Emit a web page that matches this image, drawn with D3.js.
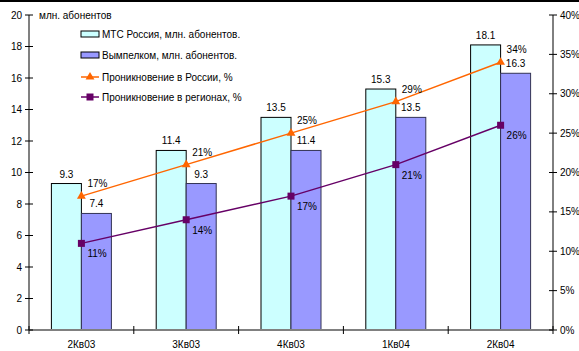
<!doctype html>
<html lang="ru">
<head>
  <meta charset="utf-8">
  <title>Абоненты - D3</title>
  <style>
    body { margin: 0; background: #fff; }
    text { font-family: "Liberation Sans", Arial, sans-serif; font-size: 10px; fill: #000; }
  </style>
</head>
<body>
  <svg width="579" height="351"></svg>
  <script src="https://cdn.jsdelivr.net/npm/d3@7/dist/d3.min.js"></script>
  <script>
    var categories = ["2Кв03", "3Кв03", "4Кв03", "1Кв04", "2Кв04"];
    var mts = [9.3, 11.4, 13.5, 15.3, 18.1];
    var beeline = [7.4, 9.3, 11.4, 13.5, 16.3];
    var penRussia = [17, 21, 25, 29, 34];
    var penRegions = [11, 14, 17, 21, 26];
    var leftTicks = [0, 2, 4, 6, 8, 10, 12, 14, 16, 18, 20];
    var rightTicks = [0, 5, 10, 15, 20, 25, 30, 35, 40];
    var legendNames = ["МТС Россия, млн. абонентов.", "Вымпелком, млн. абонентов.",
      "Проникновение в России, %", "Проникновение в регионах, %"];

    var svg = d3.select("svg");
    var pLeft = 29, pRight = 553, pTop = 15, pBottom = 330;

    // верхняя рамка
    svg.append("rect").attr("x", 0).attr("y", 0).attr("width", 579).attr("height", 2).attr("fill", "#000");

    var x = d3.scaleBand().domain(categories).range([pLeft, pRight]);
    var yL = d3.scaleLinear().domain([0, 20]).range([pBottom, pTop]);
    var yR = d3.scaleLinear().domain([0, 40]).range([pBottom, pTop]);
    var barW = 30;
    var cx = d => x(d) + x.bandwidth() / 2;

    // бары
    svg.selectAll(".mts").data(mts).enter().append("rect")
      .attr("x", (v, i) => cx(categories[i]) - barW)
      .attr("y", v => yL(v))
      .attr("width", barW)
      .attr("height", v => pBottom - yL(v))
      .attr("fill", "#ccffff").attr("stroke", "#000").attr("stroke-width", 1);
    svg.selectAll(".bee").data(beeline).enter().append("rect")
      .attr("x", (v, i) => cx(categories[i]))
      .attr("y", v => yL(v))
      .attr("width", barW)
      .attr("height", v => pBottom - yL(v))
      .attr("fill", "#9999ff").attr("stroke", "#333355").attr("stroke-width", 1);

    svg.selectAll(".mtsl").data(mts).enter().append("text")
      .attr("x", (v, i) => cx(categories[i]) - barW / 2)
      .attr("y", v => yL(v) - 6)
      .attr("text-anchor", "middle").text(v => v.toFixed(1));
    svg.selectAll(".beel").data(beeline).enter().append("text")
      .attr("x", (v, i) => cx(categories[i]) + barW / 2)
      .attr("y", v => yL(v) - 6)
      .attr("text-anchor", "middle").text(v => v.toFixed(1));

    // оси
    var axisCol = "#808080";
    svg.append("line").attr("x1", pLeft).attr("x2", pLeft).attr("y1", pTop).attr("y2", pBottom)
      .attr("stroke", axisCol).attr("stroke-width", 2);
    svg.append("line").attr("x1", pRight).attr("x2", pRight).attr("y1", pTop).attr("y2", pBottom)
      .attr("stroke", "#000").attr("stroke-width", 1);
    svg.append("line").attr("x1", pLeft).attr("x2", pRight).attr("y1", pBottom).attr("y2", pBottom)
      .attr("stroke", axisCol).attr("stroke-width", 2);

    var gl = svg.append("g");
    gl.selectAll("line").data(leftTicks).enter().append("line")
      .attr("x1", pLeft - 4).attr("x2", pLeft + 4)
      .attr("y1", v => yL(v)).attr("y2", v => yL(v)).attr("stroke", "#000");
    gl.selectAll("text").data(leftTicks).enter().append("text")
      .attr("x", pLeft - 7).attr("y", v => yL(v) + 3.5)
      .attr("text-anchor", "end").text(v => v);

    var gr = svg.append("g");
    gr.selectAll("line").data(rightTicks).enter().append("line")
      .attr("x1", pRight - 4).attr("x2", pRight + 4)
      .attr("y1", v => yR(v)).attr("y2", v => yR(v)).attr("stroke", "#000");
    gr.selectAll("text").data(rightTicks).enter().append("text")
      .attr("x", pRight + 7).attr("y", v => yR(v) + 3.5)
      .text(v => v + "%");

    var bounds = x.domain().map(d => x(d)).concat([pRight]);
    svg.selectAll(".xt").data(bounds).enter().append("line")
      .attr("x1", v => v).attr("x2", v => v)
      .attr("y1", pBottom - 4).attr("y2", pBottom + 4).attr("stroke", "#000");
    svg.selectAll(".xl").data(categories).enter().append("text")
      .attr("x", d => cx(d)).attr("y", 348)
      .attr("text-anchor", "middle").text(d => d);

    svg.append("text").attr("x", 39).attr("y", 19).text("млн. абонентов");

    // линии
    var line = d3.line().x((v, i) => cx(categories[i])).y(v => yR(v));
    svg.append("path").datum(penRussia).attr("d", line)
      .attr("fill", "none").attr("stroke", "#ff6600").attr("stroke-width", 1.5);
    svg.append("path").datum(penRegions).attr("d", line)
      .attr("fill", "none").attr("stroke", "#660066").attr("stroke-width", 1.5);

    var tri = d3.symbol().type(d3.symbolTriangle).size(34);
    svg.selectAll(".tr").data(penRussia).enter().append("path")
      .attr("d", tri)
      .attr("transform", (v, i) => "translate(" + cx(categories[i]) + "," + yR(v) + ")")
      .attr("fill", "#ff6600");
    svg.selectAll(".sq").data(penRegions).enter().append("rect")
      .attr("x", (v, i) => cx(categories[i]) - 3.5).attr("y", v => yR(v) - 3.5)
      .attr("width", 7).attr("height", 7).attr("fill", "#660066");

    svg.selectAll(".trl").data(penRussia).enter().append("text")
      .attr("x", (v, i) => cx(categories[i]) + 6).attr("y", v => yR(v) - 9)
      .text(v => v + "%");
    svg.selectAll(".sql").data(penRegions).enter().append("text")
      .attr("x", (v, i) => cx(categories[i]) + 6).attr("y", v => yR(v) + 14)
      .text(v => v + "%");

    // легенда
    var lg = svg.append("g").attr("transform", "translate(81,34)");
    var rowY = [0, 21, 43, 63];
    legendNames.forEach(function (name, i) {
      var g = lg.append("g").attr("transform", "translate(0," + rowY[i] + ")");
      if (i < 2) {
        g.append("rect").attr("x", 0).attr("y", -3).attr("width", 18).attr("height", 6)
          .attr("fill", i === 0 ? "#ccffff" : "#9999ff").attr("stroke", "#000");
      } else {
        var col = i === 2 ? "#ff6600" : "#660066";
        g.append("line").attr("x1", 0).attr("x2", 18).attr("y1", 0).attr("y2", 0)
          .attr("stroke", col).attr("stroke-width", 1.5);
        if (i === 2) g.append("path").attr("d", tri).attr("transform", "translate(9,0)").attr("fill", col);
        else g.append("rect").attr("x", 5.5).attr("y", -3.5).attr("width", 7).attr("height", 7).attr("fill", col);
      }
      g.append("text").attr("x", 21).attr("y", 3.5).text(name);
    });
  </script>
</body>
</html>
